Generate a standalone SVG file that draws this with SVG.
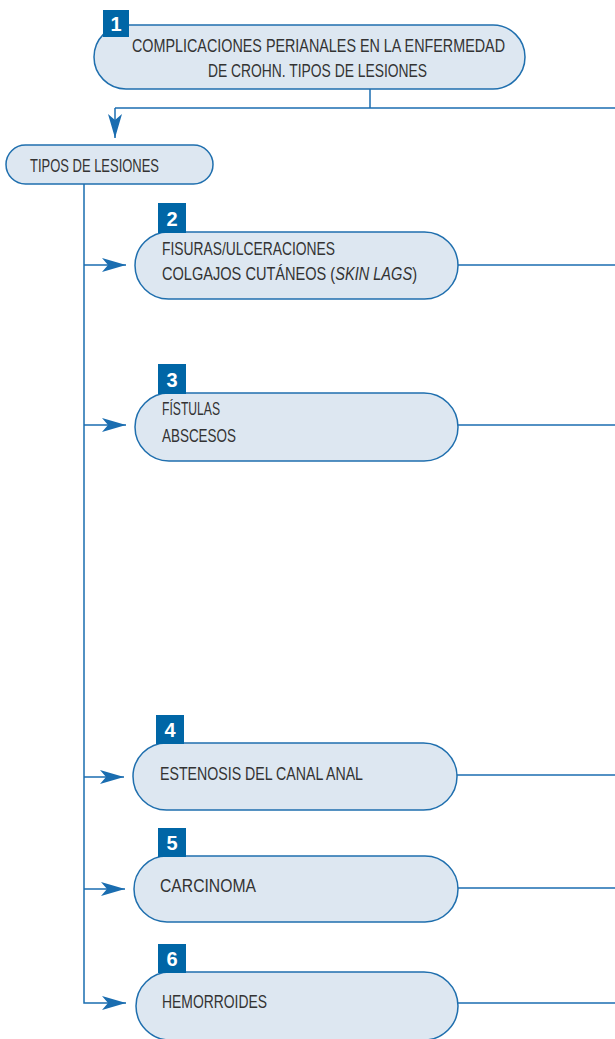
<svg xmlns="http://www.w3.org/2000/svg" width="615" height="1039" viewBox="0 0 615 1039">
<style>
.pill{fill:#dde7f1;stroke:#1f6fae;stroke-width:1.5}
.badge{fill:#0066a6}
.num{font-family:"Liberation Sans",Arial,sans-serif;font-weight:bold;font-size:20px;fill:#fff;text-anchor:middle}
.t{font-family:"Liberation Sans",Arial,sans-serif;font-size:17.5px;fill:#333}
.i{font-style:italic}
.ln{fill:none;stroke:#1a6db0;stroke-width:1.5}
</style>
<defs>
<marker id="arr" markerUnits="userSpaceOnUse" markerWidth="24" markerHeight="14" refX="24" refY="7" orient="auto">
<path d="M0,0 L24,7 L0,14 L6,7 Z" fill="#1a6db0"/>
</marker>
</defs>
<g id="connectors">
<path class="ln" d="M370,89 V108"/>
<path class="ln" d="M115,108 H615"/>
<path class="ln" d="M115,108 V138" marker-end="url(#arr)"/>
<path class="ln" d="M84,184 V1003 H126" marker-end="url(#arr)"/>
<path class="ln" d="M84,265 H126" marker-end="url(#arr)"/>
<path class="ln" d="M84,425 H126" marker-end="url(#arr)"/>
<path class="ln" d="M84,777 H124" marker-end="url(#arr)"/>
<path class="ln" d="M84,889 H125" marker-end="url(#arr)"/>
<path class="ln" d="M458,265 H615"/>
<path class="ln" d="M458,425 H615"/>
<path class="ln" d="M457,775 H615"/>
<path class="ln" d="M458,888 H615"/>
<path class="ln" d="M458,1003 H615"/>
</g>
<g id="node1">
<rect class="pill" x="94" y="25" width="431" height="64" rx="32"/>
<rect class="badge" x="103" y="10" width="26" height="27"/>
<text class="num" x="116" y="31">1</text>
<text class="t" x="132" y="52" textLength="373" lengthAdjust="spacingAndGlyphs">COMPLICACIONES PERIANALES EN LA ENFERMEDAD</text>
<text class="t" x="208" y="77" textLength="219" lengthAdjust="spacingAndGlyphs">DE CROHN. TIPOS DE LESIONES</text>
</g>
<g id="tipos">
<rect class="pill" x="6" y="145" width="207" height="39" rx="19.5"/>
<text class="t" x="30" y="172" textLength="129" lengthAdjust="spacingAndGlyphs">TIPOS DE LESIONES</text>
</g>
<g id="node2">
<rect class="pill" x="135" y="232" width="323" height="67" rx="33.5"/>
<rect class="badge" x="158" y="203" width="28" height="30"/>
<text class="num" x="172" y="226">2</text>
<text class="t" x="162" y="255" textLength="173" lengthAdjust="spacingAndGlyphs">FISURAS/ULCERACIONES</text>
<text class="t" transform="translate(162,280) scale(0.833,1)">COLGAJOS CUTÁNEOS (<tspan class="i">SKIN LAGS</tspan>)</text>
</g>
<g id="node3">
<rect class="pill" x="135" y="393" width="323" height="68" rx="34"/>
<rect class="badge" x="158" y="364" width="28" height="30"/>
<text class="num" x="172" y="387">3</text>
<text class="t" x="162" y="415" textLength="58" lengthAdjust="spacingAndGlyphs">FÍSTULAS</text>
<text class="t" x="162" y="442" textLength="74" lengthAdjust="spacingAndGlyphs">ABSCESOS</text>
</g>
<g id="node4">
<rect class="pill" x="133" y="743" width="324" height="67" rx="33.5"/>
<rect class="badge" x="156" y="715" width="28" height="29"/>
<text class="num" x="170" y="737">4</text>
<text class="t" x="160" y="780" textLength="203" lengthAdjust="spacingAndGlyphs">ESTENOSIS DEL CANAL ANAL</text>
</g>
<g id="node5">
<rect class="pill" x="134" y="856" width="324" height="66" rx="33"/>
<rect class="badge" x="158" y="828" width="28" height="29"/>
<text class="num" x="172" y="850">5</text>
<text class="t" x="160" y="892" textLength="96" lengthAdjust="spacingAndGlyphs">CARCINOMA</text>
</g>
<g id="node6">
<rect class="pill" x="136" y="972" width="322" height="68" rx="34"/>
<rect class="badge" x="158" y="944" width="28" height="29"/>
<text class="num" x="172" y="966">6</text>
<text class="t" x="162" y="1008" textLength="105" lengthAdjust="spacingAndGlyphs">HEMORROIDES</text>
</g>
</svg>
